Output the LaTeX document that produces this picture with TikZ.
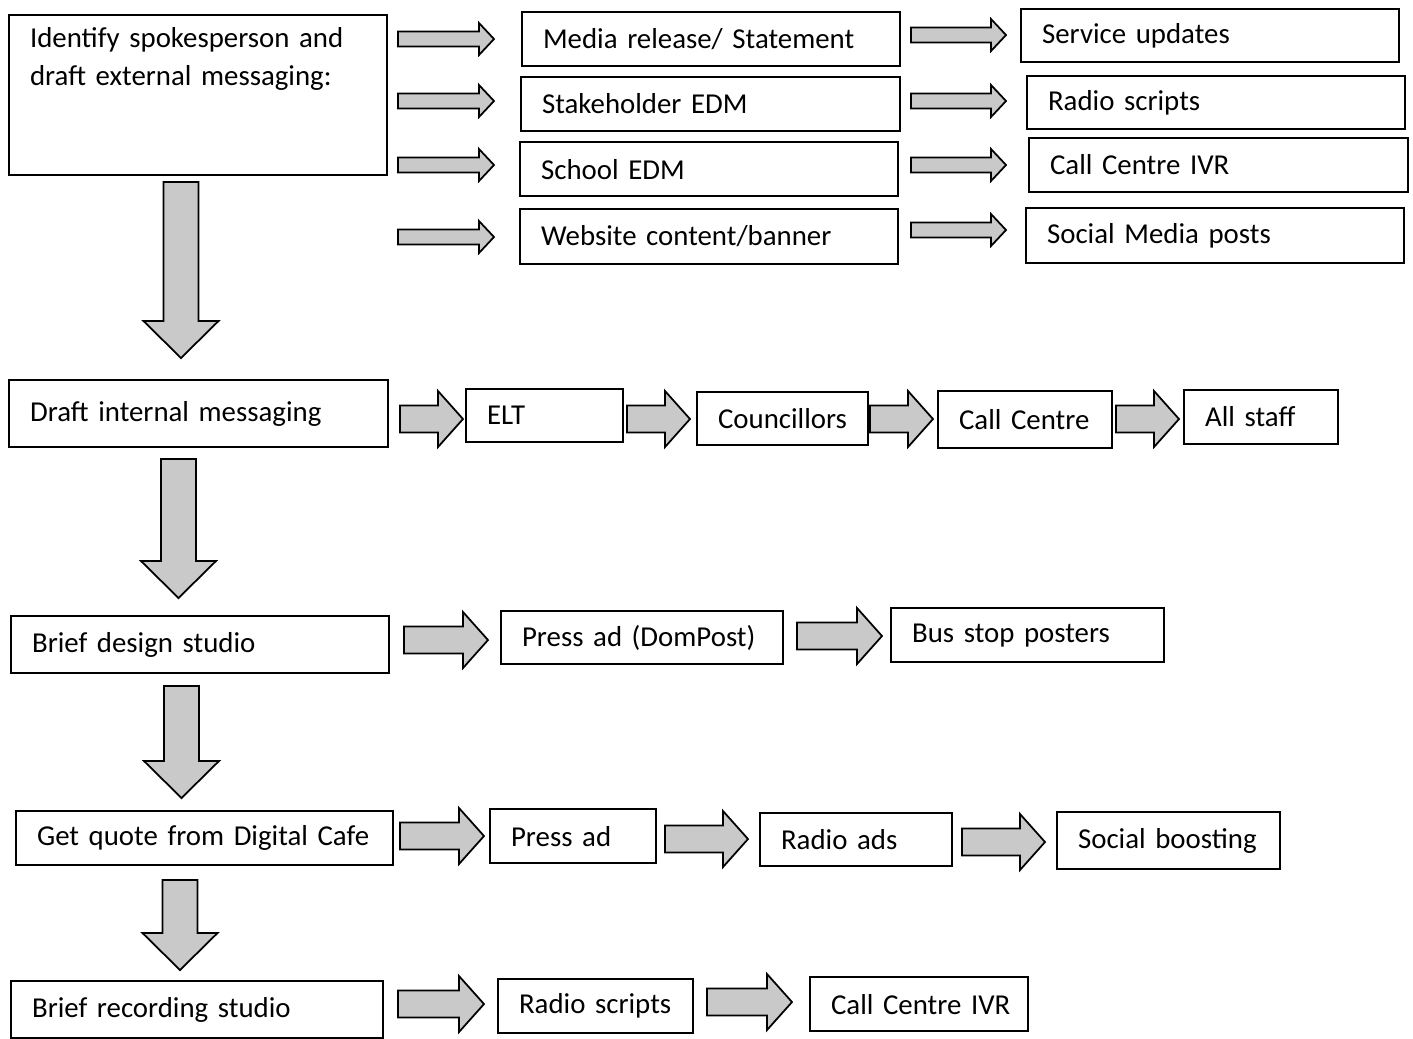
\documentclass[tikz,border=0pt]{standalone}
\usepackage{fontspec}
\setmainfont{Carlito}
\usepackage{tikz}
\usetikzlibrary{positioning}

\tikzset{
	box/.style 2 args={draw, line width=0.6pt, anchor=north west, align=left,
		inner xsep=0pt, inner ysep=0pt, minimum width=#1cm, minimum height=#2cm,
		text width=#1cm, font=\fontsize{8.2}{10.8}\selectfont,
		execute at begin node={\hspace*{0.21cm}}},
	blockarrow/.style={draw, line width=0.5pt, fill=gray!42}
}

% block arrows: tail x, tip x, centre y
\newcommand{\thinarr}[3]{\draw[blockarrow] (#1,#3-7.5) -- (#2-15,#3-7.5) -- (#2-15,#3-16) -- (#2,#3)
	-- (#2-15,#3+16) -- (#2-15,#3+7.5) -- (#1,#3+7.5) -- cycle;}
\newcommand{\bigarr}[3]{\draw[blockarrow] (#1,#3-13.5) -- (#2-25,#3-13.5) -- (#2-25,#3-28) -- (#2,#3)
	-- (#2-25,#3+28) -- (#2-25,#3+13.5) -- (#1,#3+13.5) -- cycle;}
% centre x, top y, tip y
\newcommand{\downarr}[3]{\draw[blockarrow] (#1-17.5,#2) -- (#1+17.5,#2) -- (#1+17.5,#3-37) -- (#1+37.5,#3-37)
	-- (#1,#3) -- (#1-37.5,#3-37) -- (#1-17.5,#3-37) -- cycle;}

\begin{document}
\begin{tikzpicture}[x=0.01cm, y=-0.01cm]
	\useasboundingbox (0,0) rectangle (1413,1038);

	% external messaging
	\path (8,14) node (ident) [box={3.78}{1.60}] {\parbox[c][1.36cm][t]{3.4cm}{\raggedright Identify spokesperson and\\draft external messaging:}}
		  (521,11) node (media) [box={3.78}{0.54}] {Media release/ Statement}
		  (520,76) node (stake) [box={3.79}{0.54}] {Stakeholder EDM}
		  (519,141) node (school) [box={3.78}{0.54}] {School EDM}
		  (519,208) node (web) [box={3.78}{0.55}] {Website content/banner}
		  (1020,8) node (serv) [box={3.78}{0.53}] {Service updates}
		  (1026,75) node (radio1) [box={3.78}{0.53}] {Radio scripts}
		  (1028,137) node (ivr1) [box={3.79}{0.54}] {Call Centre IVR}
		  (1025,207) node (social) [box={3.78}{0.55}] {Social Media posts};
	\foreach \y in {39,101,165,237} {\thinarr{398}{494}{\y}}
	\foreach \y in {35,101,165,230} {\thinarr{911}{1006}{\y}}
	\downarr{181}{182}{358}

	% internal messaging
	\path (8,379) node (internal) [box={3.79}{0.67}] {Draft internal messaging}
		  (465,388) node (elt) [box={1.57}{0.53}] {ELT}
		  (696,391) node (council) [box={1.71}{0.53}] {Councillors}
		  (937,390) node (callc) [box={1.74}{0.57}] {Call Centre}
		  (1183,389) node (staff) [box={1.54}{0.54}] {All staff};
	\foreach \x in {400,627,870,1116} {\bigarr{\x}{\x+63}{419}}
	\downarr{178.5}{459}{598}

	% design studio
	\path (10,615) node (design) [box={3.78}{0.57}] {Brief design studio}
		  (500,610) node (dompost) [box={2.82}{0.53}] {Press ad (DomPost)}
		  (890,607) node (busstop) [box={2.73}{0.54}] {Bus stop posters};
	\bigarr{404}{488}{640}
	\bigarr{797}{882}{636}
	\downarr{181.5}{686}{798}

	% digital cafe
	\path (15,810) node (quote) [box={3.77}{0.54}] {Get quote from Digital Cafe}
		  (489,808) node (pressad) [box={1.66}{0.54}] {Press ad}
		  (759,812) node (radioads) [box={1.92}{0.53}] {Radio ads}
		  (1056,811) node (boost) [box={2.23}{0.57}] {Social boosting};
	\bigarr{400}{484}{836}
	\bigarr{665}{748}{839}
	\bigarr{962}{1045}{842}
	\downarr{180}{880}{970}

	% recording studio
	\path (10,980) node (recording) [box={3.72}{0.57}] {Brief recording studio}
		  (497,978) node (radio2) [box={1.95}{0.54}] {Radio scripts}
		  (809,976) node (ivr2) [box={2.18}{0.54}] {Call Centre IVR};
	\bigarr{398}{484}{1004}
	\bigarr{707}{792}{1002}
\end{tikzpicture}
\end{document}
